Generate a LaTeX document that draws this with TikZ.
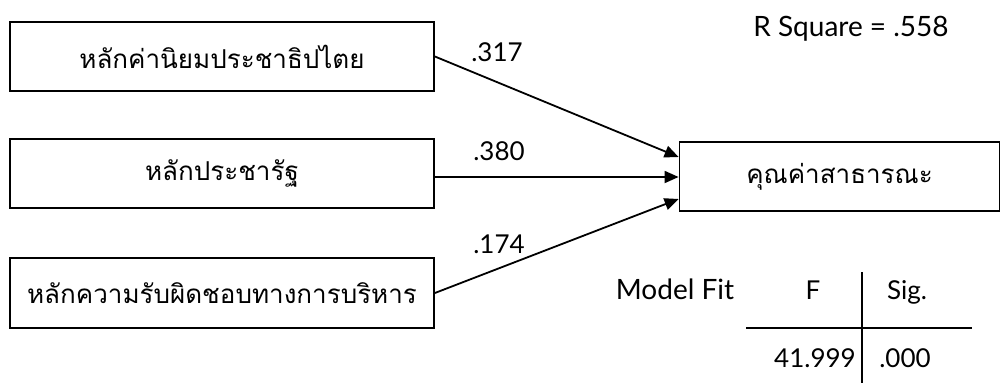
\documentclass[tikz,border=0pt]{standalone}
\usepackage{fontspec}
\setmainfont{Lato}
\newfontfamily\thaifont[Script=Thai]{Loma}
\usetikzlibrary{arrows.meta}
\tikzset{
  box/.style={draw,line width=1.8pt,inner sep=0pt,minimum width=424pt,minimum height=69pt,font=\thaifont\fontsize{26}{30}\selectfont},
  arr/.style={line width=1.8pt,-{Triangle[length=14pt,width=12pt]}},
  lab/.style={inner sep=0pt,anchor=base,font=\fontsize{26}{30}\selectfont},
  wide/.style={font=\fontsize{28}{32}\selectfont},
  rule/.style={line width=1.8pt}
}
\begin{document}
\begin{tikzpicture}[x=1pt,y=-1pt]
\useasboundingbox (0,0) rectangle (1001,383);
\node[box] (b1) at (222,56.5) {หลักค่านิยมประชาธิปไตย};
\node[box] (b2) at (222,173.5) {หลักประชารัฐ};
\node[box,minimum height=70pt] (b3) at (222,293) {หลักความรับผิดชอบทางการบริหาร};
\node[box,minimum width=320pt] (t) at (839.5,176.5) {คุณค่าสาธารณะ};
\draw[arr] (b1.east) -- ([yshift=19.5pt]t.west);
\draw[arr] ([yshift=-3.5pt]b2.east) -- ([yshift=-0.5pt]t.west);
\draw[arr] (b3.east) -- ([yshift=-22.5pt]t.west);
\node[lab] (l1) at (497,61) {.317};
\node[lab] (l2) at (499,160) {.380};
\node[lab] (l3) at (499,253) {.174};
\node[lab,wide] (rsq) at (851,36) {R Square = .558};
\node[lab,wide] (mf) at (675,299) {Model Fit};
\node[lab] (fh) at (813,299) {F};
\node[lab] (sh) at (907,299) {Sig.};
\node[lab] (fv) at (815,367) {41.999};
\node[lab] (sv) at (905,367) {.000};
\coordinate (vt) at (862,272);
\coordinate (vb) at (862,383);
\coordinate (hl) at (746,328);
\coordinate (hr) at (972,328);
\draw[rule] (vt) -- (vb);
\draw[rule] (hl) -- (hr);
\end{tikzpicture}
\end{document}
